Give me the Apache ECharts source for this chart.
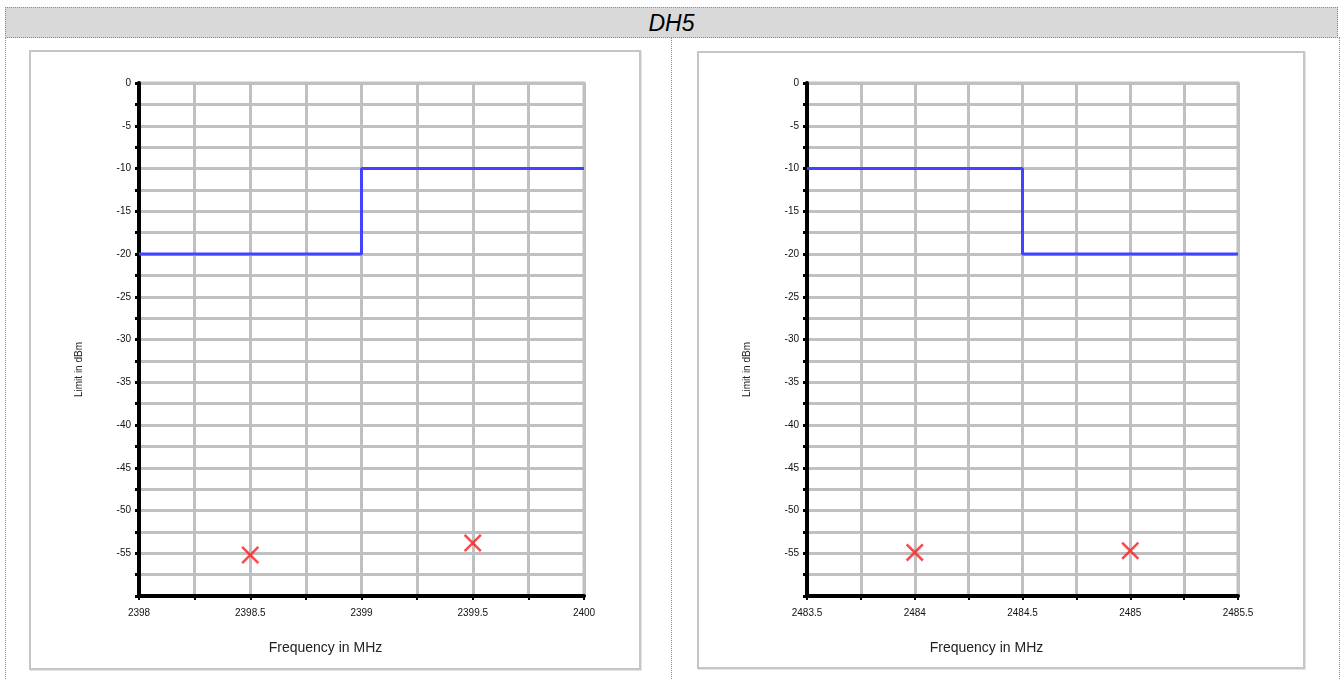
<!DOCTYPE html>
<html>
<head>
<meta charset="utf-8">
<script src="https://cdn.jsdelivr.net/npm/echarts@6/dist/echarts.min.js"></script>
<style>
  html, body { margin: 0; padding: 0; background: #fff; }
  body { width: 1343px; height: 679px; position: relative; overflow: hidden; font-family: 'Liberation Sans', Arial, sans-serif; }
  .title { position: absolute; left: 5px; top: 7px; width: 1331px; height: 29px; background: #d9d9d9;
           border: 1px dotted #8a8a8a; text-align: center; font-style: italic; font-size: 23px; line-height: 30px; color: #000; }
  .cell { position: absolute; top: 37px; height: 650px; border-left: 1px dotted #8a8a8a; }
  .panel { position: absolute; background: #fff; border: 2px solid #c6c6c6; box-shadow: 1px 1px 0 #e4e4e4; }
  #chart { position: absolute; left: 0; top: 0; width: 1343px; height: 679px; }
</style>
</head>
<body>
<div class="title">DH5</div>
<div class="cell" style="left:5px;width:666px"></div>
<div class="cell" style="left:671px;width:667px;border-right:1px dotted #8a8a8a"></div>
<div class="panel" style="left:29px;top:50px;width:608px;height:616px"></div>
<div class="panel" style="left:697px;top:51px;width:604px;height:614px"></div>
<div id="chart"></div>
<script>
// ====== 数据 ======
// 左图：2398–2400 MHz
const leftLimitFreq = [2398, 2399, 2400];
const leftLimitLevel = [-20, -10, -10];
const leftMeasFreq = [2398.5, 2399.5];
const leftMeasLevel = [-55.2, -53.8];

// 右图：2483.5–2485.5 MHz
const rightLimitFreq = [2483.5, 2484.5, 2485.5];
const rightLimitLevel = [-10, -20, -20];
const rightMeasFreq = [2484, 2485];
const rightMeasLevel = [-54.9, -54.7];

const yTicks = { min: -60, max: 0, interval: 5 };

const FONT = "'Liberation Sans', Arial, sans-serif";
const GRID_GREY = '#c0c0c0';
const CROSS = 'path://M0,1L1,0L5,4L9,0L10,1L6,5L10,9L9,10L5,6L1,10L0,9L4,5Z';

function pairs(xs, ys) {
  return xs.map((x, i) => [x, ys[i]]);
}

function xAxisOf(idx, min, max) {
  return {
    gridIndex: idx, type: 'value', min: min, max: max, interval: 0.5,
    name: 'Frequency in MHz', nameLocation: 'middle', nameGap: 45,
    nameTextStyle: { fontFamily: FONT, fontSize: 14, color: '#222', padding: [0, 72, 0, 0] },
    axisLine: { show: true, onZero: false, lineStyle: { color: '#000', width: 4 } },
    axisTick: { show: true, length: 4, lineStyle: { color: '#000', width: 2 } },
    minorTick: { show: true, splitNumber: 2, length: 4, lineStyle: { color: '#000', width: 2 } },
    axisLabel: { fontFamily: FONT, fontSize: 10, color: '#111', margin: 12, formatter: v => String(v) },
    splitLine: { show: true, lineStyle: { color: GRID_GREY, width: 3 } },
    minorSplitLine: { show: true, lineStyle: { color: GRID_GREY, width: 3 } }
  };
}

function yAxisOf(idx) {
  return {
    gridIndex: idx, type: 'value', min: yTicks.min, max: yTicks.max, interval: yTicks.interval,
    name: 'Limit in dBm', nameLocation: 'middle', nameGap: 55, nameRotate: 90,
    nameTextStyle: { fontFamily: FONT, fontSize: 10, color: '#222', padding: [0, 60, 0, 0] },
    axisLine: { show: true, onZero: false, lineStyle: { color: '#000', width: 4 } },
    axisTick: { show: true, length: 4, lineStyle: { color: '#000', width: 3 } },
    minorTick: { show: true, splitNumber: 2, length: 4, lineStyle: { color: '#000', width: 3 } },
    axisLabel: {
      fontFamily: FONT, fontSize: 10, color: '#111', margin: 8,
      formatter: v => (v === yTicks.min ? '' : String(v))
    },
    splitLine: { show: true, lineStyle: { color: GRID_GREY, width: 3 } },
    minorSplitLine: { show: true, lineStyle: { color: GRID_GREY, width: 3 } }
  };
}

function limitSeries(idx, xs, ys) {
  return {
    type: 'line', xAxisIndex: idx, yAxisIndex: idx, step: 'end',
    data: pairs(xs, ys), symbol: 'none', z: 3,
    lineStyle: { color: '#4343ff', width: 3 }
  };
}

function measSeries(idx, xs, ys) {
  return {
    type: 'scatter', xAxisIndex: idx, yAxisIndex: idx,
    data: pairs(xs, ys), symbol: CROSS, symbolSize: 18, z: 4,
    itemStyle: { color: '#ff1a1a' }
  };
}

function render() {
  const chart = echarts.init(document.getElementById('chart'));
  chart.setOption({
    animation: false,
    grid: [
      { left: 139, top: 83, width: 445, height: 513, show: true, borderColor: GRID_GREY, borderWidth: 3 },
      { left: 807, top: 83, width: 431, height: 513, show: true, borderColor: GRID_GREY, borderWidth: 3 }
    ],
    xAxis: [xAxisOf(0, 2398, 2400), xAxisOf(1, 2483.5, 2485.5)],
    yAxis: [yAxisOf(0), yAxisOf(1)],
    series: [
      limitSeries(0, leftLimitFreq, leftLimitLevel),
      measSeries(0, leftMeasFreq, leftMeasLevel),
      limitSeries(1, rightLimitFreq, rightLimitLevel),
      measSeries(1, rightMeasFreq, rightMeasLevel)
    ]
  });
}

window.addEventListener('DOMContentLoaded', render);
</script>
</body>
</html>
